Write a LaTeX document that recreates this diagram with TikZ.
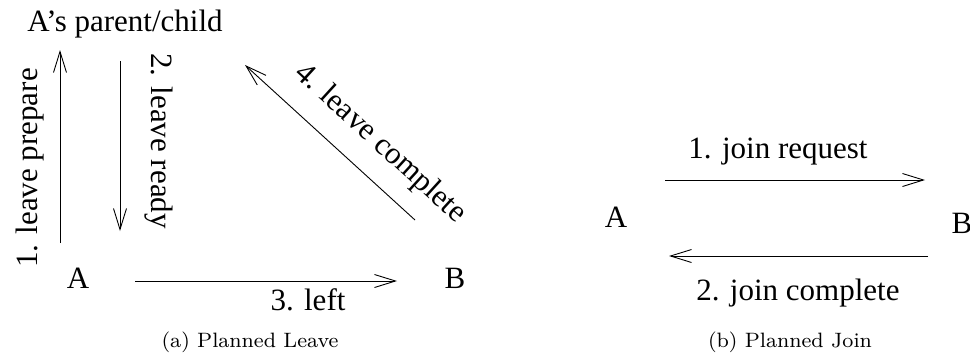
\documentclass[tikz,border=0pt]{standalone}
\usepackage{fontspec}
\usepackage{graphicx}
\newfontfamily\tnr[Ligatures=TeX]{Liberation Serif}
\usetikzlibrary{arrows.meta}
\tikzset{
	msg/.style={-{Straight Barb[length=21pt,width=13pt]},line width=0.9pt},
	lbl/.style={font=\tnr\fontsize{31}{36}\selectfont,inner sep=0pt},
	capt/.style={inner sep=0pt,anchor=base}}
\newcommand{\subcap}[1]{\scalebox{2.6}{\fontsize{8}{10}\selectfont #1}}

\begin{document}
\begin{tikzpicture}[x=1pt,y=-1pt]
			\useasboundingbox (0,0) rectangle (970,354);
			% (a) planned leave
			\node[lbl,anchor=base] (par) at (125,31) {A’s parent/child};
			\node[lbl,anchor=base] (la) at (78,288) {A};
			\node[lbl,anchor=base] (lb) at (455,288) {B};
			\coordinate (a1s) at (60,243);  \coordinate (a1e) at (60,50);
			\coordinate (a2s) at (120,61);  \coordinate (a2e) at (120,231);
			\coordinate (a3s) at (135,281); \coordinate (a3e) at (397,281);
			\coordinate (a4s) at (415,220); \coordinate (a4e) at (245,65);
			\draw[msg] (a1s) -- (a1e);
			\draw[msg] (a2s) -- (a2e);
			\draw[msg] (a3s) -- (a3e);
			\draw[msg] (a4s) -- (a4e);
			\node[lbl,anchor=base,rotate=90] (m1) at (37,168) {1. leave prepare};
			\node[lbl,anchor=base,rotate=-90] (m2) at (151,141) {2. leave ready};
			\node[lbl,anchor=base] (m3) at (308,310) {3. left};
			\node[lbl,rotate=-42.4] (m4) at (380,144) {4. leave complete};
			\node[capt] (capa) at (250,347) {\subcap{(a) Planned Leave}};
			% (b) planned join
			\node[lbl,anchor=base] (ja) at (616,227) {A};
			\node[lbl,anchor=base] (jb) at (962,233) {B};
			\coordinate (b1s) at (665,180); \coordinate (b1e) at (925,180);
			\coordinate (b2s) at (928,256); \coordinate (b2e) at (669,256);
			\draw[msg] (b1s) -- (b1e);
			\draw[msg] (b2s) -- (b2e);
			\node[lbl,anchor=base] (n1) at (778,158) {1. join request};
			\node[lbl,anchor=base] (n2) at (798,300) {2. join complete};
			\node[capt] (capb) at (790,347) {\subcap{(b) Planned Join}};
\end{tikzpicture}
\end{document}
